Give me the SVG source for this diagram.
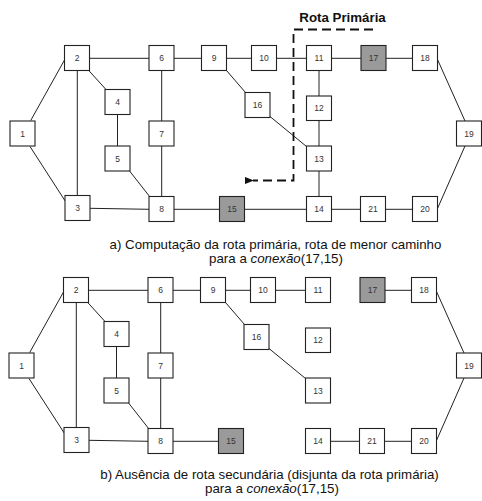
<svg xmlns="http://www.w3.org/2000/svg" width="482" height="501" viewBox="0 0 482 501">
<style>
.n rect{fill:#fff;stroke:#222;stroke-width:1.1}
.n.g rect{fill:#9a9a9a}
.n text{font-family:"Liberation Sans",Arial,sans-serif;font-size:8.5px;fill:#333;text-anchor:middle}
.e line{stroke:#222;stroke-width:1}
.cap{font-family:"Liberation Sans",Arial,sans-serif;font-size:13.3px;fill:#111;text-anchor:middle}
.route{fill:none;stroke:#111;stroke-width:1.8;stroke-dasharray:9,5}
</style>
<defs>
<marker id="ah" viewBox="0 0 10 8" refX="1" refY="4" markerWidth="5" markerHeight="4" orient="auto-start-reverse" markerUnits="strokeWidth">
<path d="M0,4 L10,0 L10,8 Z" fill="#111"/>
</marker>
</defs>
<rect width="482" height="501" fill="#fff"/>

<!-- Diagram a -->
<g id="diagram-a">
<g id="edges-a" class="e">
<line x1="30.7" y1="120.5" x2="64.5" y2="60"/>
<line x1="30" y1="146.5" x2="65.5" y2="201.5"/>
<line x1="77.3" y1="70" x2="77.3" y2="196"/>
<line x1="89" y1="58.3" x2="149" y2="58.3"/>
<line x1="88.3" y1="70" x2="106" y2="89.5"/>
<line x1="117.5" y1="114" x2="117.5" y2="146"/>
<line x1="129.3" y1="170.7" x2="150" y2="197"/>
<line x1="161.7" y1="70" x2="161.7" y2="121"/>
<line x1="161.7" y1="146" x2="161.7" y2="197"/>
<line x1="90" y1="208.3" x2="149" y2="209.3"/>
<line x1="174" y1="209.3" x2="219.5" y2="209.3"/>
<line x1="174" y1="58.3" x2="201.5" y2="58.3"/>
<line x1="226.5" y1="58.3" x2="251.5" y2="58.3"/>
<line x1="226.5" y1="70.5" x2="245.5" y2="92.5"/>
<line x1="276.5" y1="58.3" x2="306.5" y2="58.3"/>
<line x1="331.5" y1="58.3" x2="361" y2="58.3"/>
<line x1="386" y1="58.3" x2="412.5" y2="58.3"/>
<line x1="437.5" y1="59.5" x2="465" y2="121"/>
<line x1="465" y1="146" x2="437.5" y2="208.5"/>
<line x1="319" y1="70.5" x2="319" y2="96"/>
<line x1="319" y1="120" x2="319" y2="146"/>
<line x1="270" y1="116.5" x2="306.5" y2="146.5"/>
<line x1="319" y1="171" x2="319" y2="196.5"/>
<line x1="244.5" y1="209.3" x2="306.5" y2="209.3"/>
<line x1="331.5" y1="209.3" x2="360.5" y2="209.3"/>
<line x1="385.5" y1="209.3" x2="412.5" y2="209.3"/>
</g>
<g id="a1" class="n"><rect x="10" y="121" width="25" height="25"/><text x="22.5" y="136.5">1</text></g>
<g id="a2" class="n"><rect x="64.5" y="45.5" width="25" height="25"/><text x="77" y="61">2</text></g>
<g id="a3" class="n"><rect x="65" y="195.5" width="25" height="25"/><text x="77.5" y="211">3</text></g>
<g id="a4" class="n"><rect x="105" y="89.5" width="25" height="25"/><text x="117.5" y="105">4</text></g>
<g id="a5" class="n"><rect x="105" y="146" width="25" height="25"/><text x="117.5" y="161.5">5</text></g>
<g id="a6" class="n"><rect x="149" y="45.5" width="25" height="25"/><text x="161.5" y="61">6</text></g>
<g id="a7" class="n"><rect x="149" y="121" width="25" height="25"/><text x="161.5" y="136.5">7</text></g>
<g id="a8" class="n"><rect x="149" y="196.5" width="25" height="25"/><text x="161.5" y="212">8</text></g>
<g id="a9" class="n"><rect x="201.5" y="45.5" width="25" height="25"/><text x="214" y="61">9</text></g>
<g id="a10" class="n"><rect x="251.5" y="45.5" width="25" height="25"/><text x="264" y="61">10</text></g>
<g id="a11" class="n"><rect x="306.5" y="45.5" width="25" height="25"/><text x="319" y="61">11</text></g>
<g id="a12" class="n"><rect x="306.5" y="96" width="25" height="24.5"/><text x="319" y="111.3">12</text></g>
<g id="a13" class="n"><rect x="306.5" y="146" width="25" height="25"/><text x="319" y="161.5">13</text></g>
<g id="a14" class="n"><rect x="306.5" y="196.5" width="25" height="25"/><text x="319" y="212">14</text></g>
<g id="a15" class="n g"><rect x="219.5" y="196.5" width="25" height="25"/><text x="232" y="212">15</text></g>
<g id="a16" class="n"><rect x="245" y="92.5" width="25" height="25"/><text x="257.5" y="108">16</text></g>
<g id="a17" class="n g"><rect x="361" y="45.5" width="25" height="25"/><text x="373.5" y="61">17</text></g>
<g id="a18" class="n"><rect x="412.5" y="45.5" width="25" height="25"/><text x="425" y="61">18</text></g>
<g id="a19" class="n"><rect x="456.5" y="121" width="25" height="25"/><text x="469" y="136.5">19</text></g>
<g id="a20" class="n"><rect x="412.5" y="196.5" width="25" height="25"/><text x="425" y="212">20</text></g>
<g id="a21" class="n"><rect x="360.5" y="196.5" width="25" height="25"/><text x="373" y="212">21</text></g>

<g id="primary-route">
<path class="route" d="M373,29.5 H293.5 V180.5 H253" marker-end="url(#ah)"/>
<text x="299.3" y="21.5" style="font-family:'Liberation Sans',Arial,sans-serif;font-size:13.3px;font-weight:bold;fill:#111">Rota Primária</text>
</g>
<text class="cap" x="275.5" y="249">a) Computação da rota primária, rota de menor caminho</text>
<text class="cap" x="276" y="263">para a <tspan font-style="italic">conexão</tspan>(17,15)</text>
</g>

<!-- Diagram b -->
<g id="diagram-b" transform="translate(-1,232)">
<g id="edges-b" class="e">
<line x1="30.7" y1="120.5" x2="64.5" y2="60"/>
<line x1="30" y1="146.5" x2="65.5" y2="201.5"/>
<line x1="77.3" y1="70" x2="77.3" y2="196"/>
<line x1="89" y1="58.3" x2="149" y2="58.3"/>
<line x1="88.3" y1="70" x2="106" y2="89.5"/>
<line x1="117.5" y1="114" x2="117.5" y2="146"/>
<line x1="129.3" y1="170.7" x2="150" y2="197"/>
<line x1="161.7" y1="70" x2="161.7" y2="121"/>
<line x1="161.7" y1="146" x2="161.7" y2="197"/>
<line x1="90" y1="208.3" x2="149" y2="209.3"/>
<line x1="174" y1="209.3" x2="219.5" y2="209.3"/>
<line x1="174" y1="58.3" x2="201.5" y2="58.3"/>
<line x1="226.5" y1="58.3" x2="251.5" y2="58.3"/>
<line x1="226.5" y1="70.5" x2="245.5" y2="92.5"/>
<line x1="276.5" y1="58.3" x2="306.5" y2="58.3"/>
<line x1="386" y1="58.3" x2="412.5" y2="58.3"/>
<line x1="437.5" y1="59.5" x2="465" y2="121"/>
<line x1="465" y1="146" x2="437.5" y2="208.5"/>
<line x1="270" y1="116.5" x2="306.5" y2="146.5"/>
<line x1="331.5" y1="209.3" x2="360.5" y2="209.3"/>
<line x1="385.5" y1="209.3" x2="412.5" y2="209.3"/>
</g>
<g id="b1" class="n"><rect x="10" y="121" width="25" height="25"/><text x="22.5" y="136.5">1</text></g>
<g id="b2" class="n"><rect x="64.5" y="45.5" width="25" height="25"/><text x="77" y="61">2</text></g>
<g id="b3" class="n"><rect x="65" y="195.5" width="25" height="25"/><text x="77.5" y="211">3</text></g>
<g id="b4" class="n"><rect x="105" y="89.5" width="25" height="25"/><text x="117.5" y="105">4</text></g>
<g id="b5" class="n"><rect x="105" y="146" width="25" height="25"/><text x="117.5" y="161.5">5</text></g>
<g id="b6" class="n"><rect x="149" y="45.5" width="25" height="25"/><text x="161.5" y="61">6</text></g>
<g id="b7" class="n"><rect x="149" y="121" width="25" height="25"/><text x="161.5" y="136.5">7</text></g>
<g id="b8" class="n"><rect x="149" y="196.5" width="25" height="25"/><text x="161.5" y="212">8</text></g>
<g id="b9" class="n"><rect x="201.5" y="45.5" width="25" height="25"/><text x="214" y="61">9</text></g>
<g id="b10" class="n"><rect x="251.5" y="45.5" width="25" height="25"/><text x="264" y="61">10</text></g>
<g id="b11" class="n"><rect x="306.5" y="45.5" width="25" height="25"/><text x="319" y="61">11</text></g>
<g id="b12" class="n"><rect x="306.5" y="96" width="25" height="24.5"/><text x="319" y="111.3">12</text></g>
<g id="b13" class="n"><rect x="306.5" y="146" width="25" height="25"/><text x="319" y="161.5">13</text></g>
<g id="b14" class="n"><rect x="306.5" y="196.5" width="25" height="25"/><text x="319" y="212">14</text></g>
<g id="b15" class="n g"><rect x="219.5" y="196.5" width="25" height="25"/><text x="232" y="212">15</text></g>
<g id="b16" class="n"><rect x="245" y="92.5" width="25" height="25"/><text x="257.5" y="108">16</text></g>
<g id="b17" class="n g"><rect x="361" y="45.5" width="25" height="25"/><text x="373.5" y="61">17</text></g>
<g id="b18" class="n"><rect x="412.5" y="45.5" width="25" height="25"/><text x="425" y="61">18</text></g>
<g id="b19" class="n"><rect x="457.5" y="121" width="25" height="25"/><text x="470" y="136.5">19</text></g>
<g id="b20" class="n"><rect x="412.5" y="196.5" width="25" height="25"/><text x="425" y="212">20</text></g>
<g id="b21" class="n"><rect x="360.5" y="196.5" width="25" height="25"/><text x="373" y="212">21</text></g>
</g>
<text class="cap" x="269.5" y="479">b) Ausência de rota secundária (disjunta da rota primária)</text>
<text class="cap" x="272" y="493">para a <tspan font-style="italic">conexão</tspan>(17,15)</text>
</svg>
